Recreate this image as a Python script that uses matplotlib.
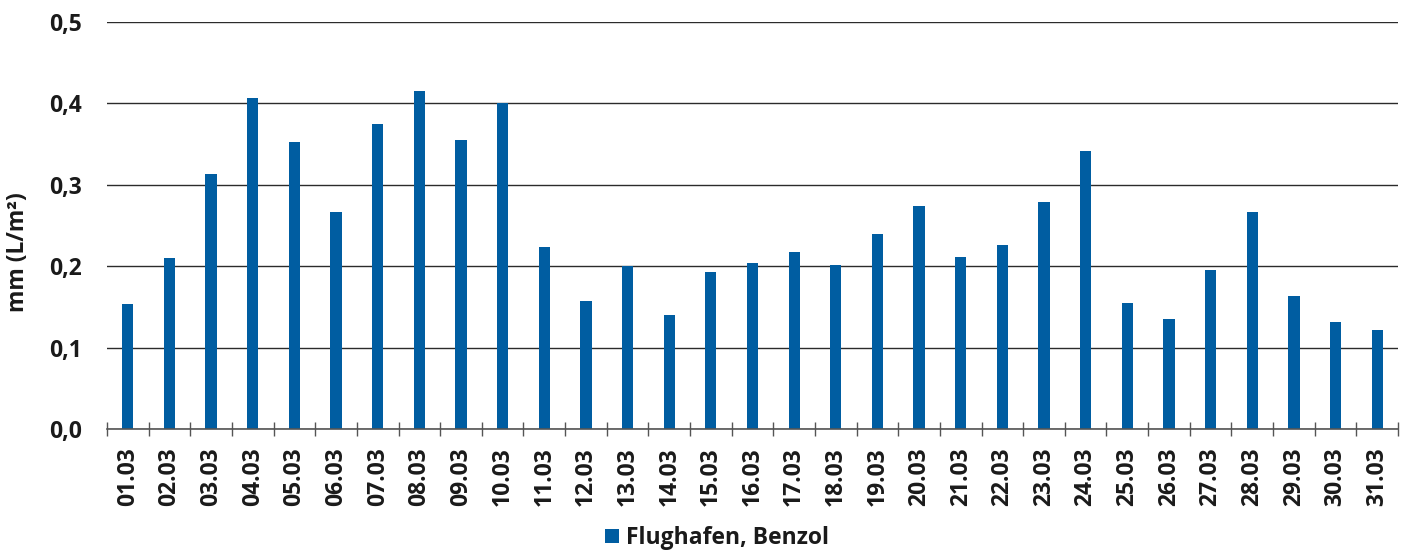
import matplotlib
matplotlib.use("Agg")
import matplotlib.pyplot as plt
from matplotlib.ticker import FuncFormatter, FixedLocator
import numpy as np

plt.rcParams['font.family'] = ['Open Sans', 'DejaVu Sans']

categories = ["01.03", "02.03", "03.03", "04.03", "05.03", "06.03", "07.03", "08.03",
              "09.03", "10.03", "11.03", "12.03", "13.03", "14.03", "15.03", "16.03",
              "17.03", "18.03", "19.03", "20.03", "21.03", "22.03", "23.03", "24.03",
              "25.03", "26.03", "27.03", "28.03", "29.03", "30.03", "31.03"]
values = [0.153, 0.210, 0.313, 0.407, 0.352, 0.266, 0.375, 0.415,
          0.355, 0.401, 0.224, 0.157, 0.200, 0.140, 0.193, 0.204,
          0.217, 0.202, 0.239, 0.274, 0.211, 0.226, 0.279, 0.341,
          0.155, 0.135, 0.195, 0.266, 0.163, 0.131, 0.122]
series_name = "Flughafen, Benzol"
y_ticks = [0.0, 0.1, 0.2, 0.3, 0.4, 0.5]

FS = 16.5
W, H = 1410, 553
fig = plt.figure(figsize=(W / 100, H / 100), dpi=100)
ax = fig.add_axes([107 / W, 1 - 429 / H, (1398 - 107) / W, (429 - 22) / H])

x = np.arange(len(categories))
bar_color = "#005DA1"
ax.bar(x, values, width=0.27, color=bar_color, label=series_name, zorder=3)

ax.set_xlim(-0.5, len(categories) - 0.5)
ax.set_ylim(0, 0.5)
ax.set_yticks(y_ticks)
ax.yaxis.set_major_formatter(FuncFormatter(lambda v, p: f"{v:.1f}".replace(".", ",")))
ax.grid(axis="y", color="#2b2b2b", linewidth=1.0, zorder=1)
ax.set_axisbelow(True)

for s in ["left", "right", "top"]:
    ax.spines[s].set_visible(False)
ax.spines["bottom"].set_color("#555555")
ax.spines["bottom"].set_linewidth(1.2)
ax.spines["bottom"].set_zorder(4)

ax.tick_params(axis="y", length=0, pad=18, labelsize=FS, labelcolor="#1a1a1a")
for lab in ax.get_yticklabels():
    lab.set_fontweight("bold")

# category labels at bar centers, ticks between categories
ax.set_xticks(x)
ax.set_xticklabels(categories, rotation=90, fontsize=FS, fontweight="bold", color="#1a1a1a")
ax.tick_params(axis="x", which="major", length=0, pad=13)
ax.xaxis.set_minor_locator(FixedLocator(np.arange(-0.5, len(categories), 1.0)))
ax.tick_params(axis="x", which="minor", direction="inout", length=10, width=1.0, color="#555555")

ax.set_ylabel("mm (L/m²)", fontsize=FS, fontweight="bold", color="#1a1a1a")
ax.yaxis.set_label_coords(-0.0596, 0.435)

leg = fig.legend(loc="center", bbox_to_anchor=(717 / W, 1 - 538 / H), frameon=False,
                 handlelength=0.6, handleheight=0.6, handletextpad=0.3,
                 prop={"size": FS, "weight": "bold"})
for t in leg.get_texts():
    t.set_color("#1a1a1a")

fig.savefig("out.png", dpi=100)
